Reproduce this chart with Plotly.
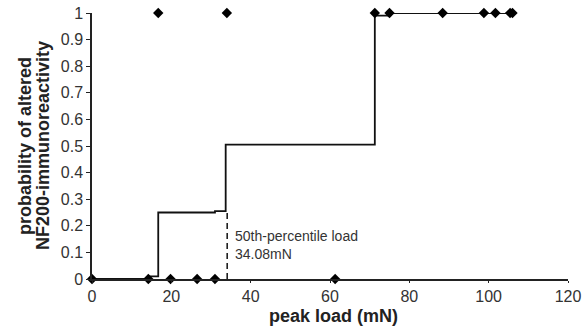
import plotly.graph_objects as go

# observed data points (peak load in mN, outcome 0/1)
pts_x = [0, 14.2, 19.8, 26.5, 31.0, 61.3, 16.7, 34.0, 71.3, 75.0, 88.4, 98.8, 101.7, 105.4, 106.0]
pts_y = [0, 0, 0, 0, 0, 0, 1, 1, 1, 1, 1, 1, 1, 1, 1]

# step curve (probability estimate)
step_x = [0, 14.2, 14.2, 16.7, 16.7, 31.0, 31.0, 33.7, 33.7, 71.3, 71.3, 75.0, 75.0, 106.0]
step_y = [0, 0, 0.01, 0.01, 0.25, 0.25, 0.255, 0.255, 0.505, 0.505, 0.99, 0.99, 1.0, 1.0]

p50_x = 34.08
p50_y = [0, 0.25]

x_ticks = [0, 20, 40, 60, 80, 100, 120]
y_ticks = [0, 0.1, 0.2, 0.3, 0.4, 0.5, 0.6, 0.7, 0.8, 0.9, 1]
y_tick_text = ["0", "0.1", "0.2", "0.3", "0.4", "0.5", "0.6", "0.7", "0.8", "0.9", "1"]

x_title = "peak load (mN)"
y_title_lines = ["probability of altered", "NF200-immunoreactivity"]

FONT = "Liberation Sans, Arial"

fig = go.Figure()
fig.add_trace(go.Scatter(x=step_x, y=step_y, mode="lines",
                         line=dict(color="#111", width=1.8), hoverinfo="skip"))
fig.add_trace(go.Scatter(x=[p50_x, p50_x], y=p50_y, mode="lines",
                         line=dict(color="#111", width=1.5, dash="6px,4px")))
fig.add_trace(go.Scatter(x=pts_x, y=pts_y, mode="markers",
                         marker=dict(symbol="diamond", size=8, color="black"),
                         cliponaxis=False))

fig.add_annotation(x=35.6, y=0.126, xref="x", yref="y",
                   text="50th-percentile load<br>34.08mN", showarrow=False,
                   xanchor="left", yanchor="middle", align="left",
                   font=dict(size=14, color="#333", family=FONT))

# axis titles
fig.add_annotation(x=0.5, y=0, xref="paper", yref="paper", text="<b>%s</b>" % x_title,
                   showarrow=False, xanchor="center", yanchor="middle", borderpad=0,
                   xshift=3, yshift=-37, font=dict(size=18, color="#222", family=FONT))
for line, shift in zip(y_title_lines, [-67, -49]):
    fig.add_annotation(x=0, y=0.5, xref="paper", yref="paper", text="<b>%s</b>" % line,
                       showarrow=False, textangle=-90, xanchor="center", yanchor="middle",
                       borderpad=0, xshift=shift,
                       font=dict(size=18, color="#222", family=FONT))

fig.update_layout(
    width=584, height=329,
    margin=dict(l=92, r=16, t=13, b=50, autoexpand=False),
    paper_bgcolor="white", plot_bgcolor="white",
    showlegend=False,
    font=dict(family=FONT, color="#333"),
)
fig.update_xaxes(range=[0, 120], tickvals=x_ticks, showline=True, linecolor="#222",
                 linewidth=1.5, ticks="outside", ticklen=2, tickcolor="#222",
                 showgrid=False, zeroline=False, tickfont=dict(size=16), automargin=False)
fig.update_yaxes(range=[0, 1], tickvals=y_ticks, ticktext=y_tick_text, showline=True,
                 linecolor="#222", linewidth=1.5, ticks="outside", ticklen=4,
                 tickcolor="#222", showgrid=False, zeroline=False, tickfont=dict(size=16),
                 automargin=False)

fig.write_html("out.html")
